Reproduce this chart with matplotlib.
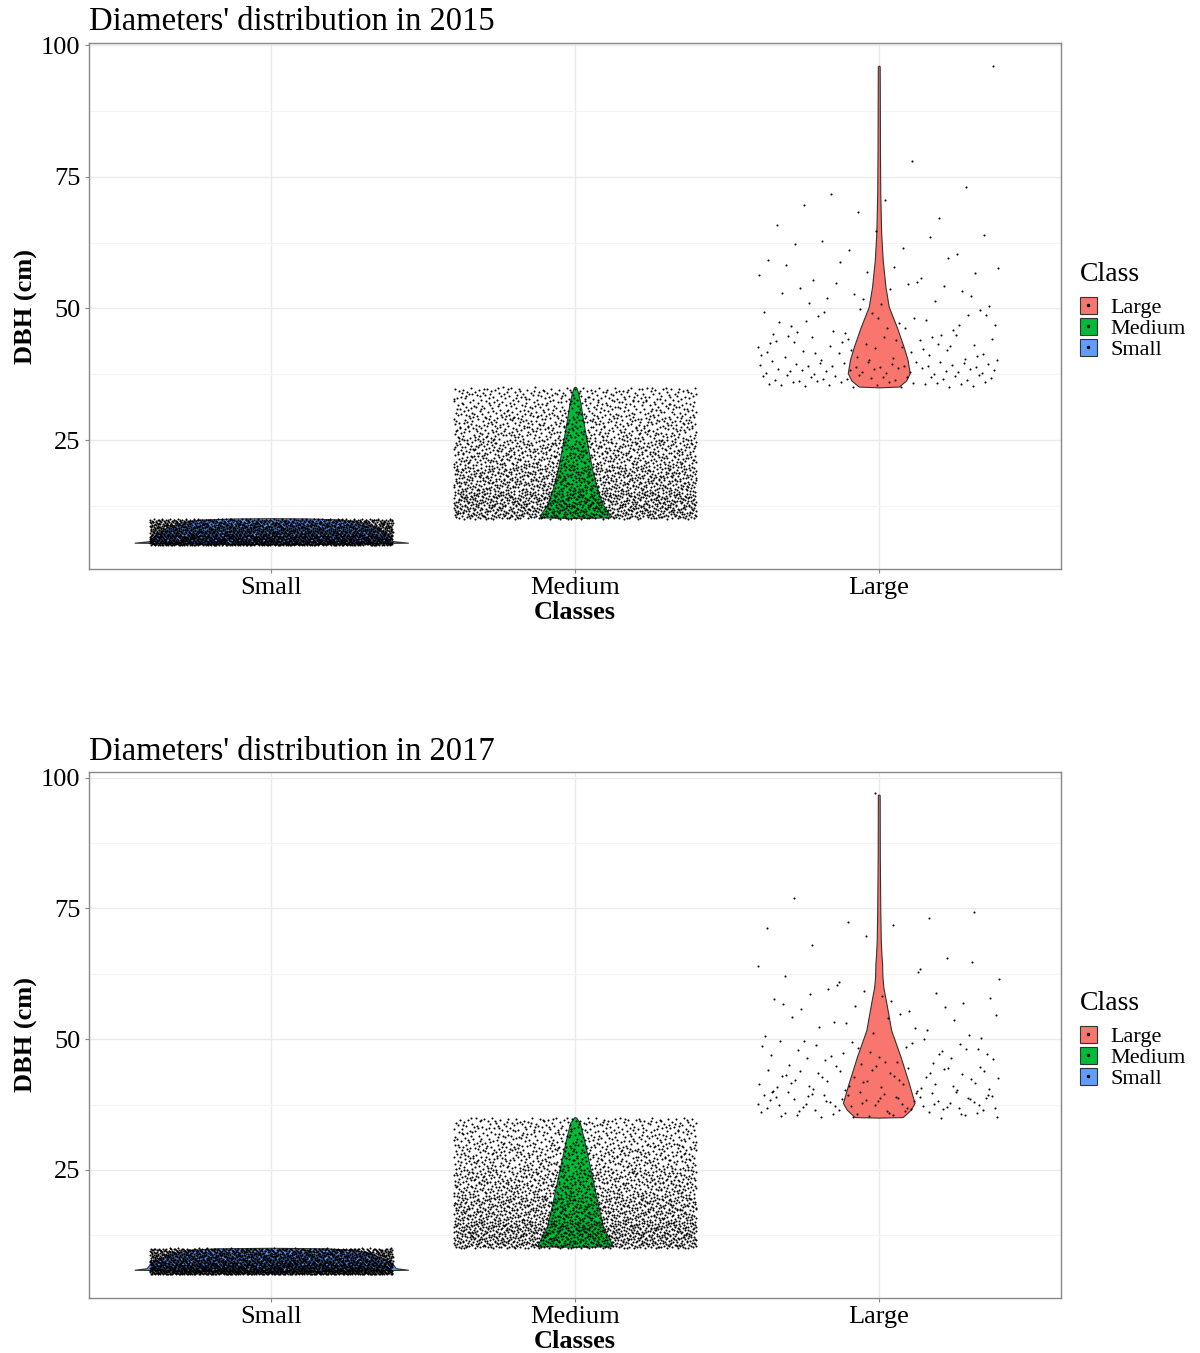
import numpy as np
import matplotlib
matplotlib.use("Agg")
import matplotlib.pyplot as plt
from matplotlib.patches import Rectangle
from matplotlib.lines import Line2D
from matplotlib.legend_handler import HandlerTuple

plt.rcParams['font.family'] = ['Liberation Serif', 'DejaVu Serif']

# ---------------- data ----------------
classes = ["Small", "Medium", "Large"]
years = ["2015", "2017"]
colors = {"Large": "#F8766D", "Medium": "#00BA38", "Small": "#619CFF"}

# histogram of diameters (bin edges in cm, counts of trees)
small_edges = [5, 6, 7, 8, 9, 10]
small_counts_2015 = [620, 550, 480, 420, 360]
small_counts_2017 = [650, 570, 500, 430, 370]

medium_edges = [10, 15, 20, 25, 30, 35]
medium_counts_2015 = [820, 640, 500, 400, 320]
medium_counts_2017 = [850, 660, 510, 400, 320]

large_edges = [35, 40, 45, 50, 55, 60, 65, 70, 75]
large_counts_2015 = [75, 40, 25, 15, 12, 8, 4, 3]
large_counts_2017 = [75, 45, 30, 14, 14, 8, 3, 3]
large_extra_2015 = [78.0, 96.0]
large_extra_2017 = [72.5, 73.2, 77.0, 97.0]

# violin outlines: DBH value and half-width (category units)
violin_small_y_2015 = [5.2, 5.5, 5.8, 6.5, 7.5, 8.5, 9.3, 9.9, 10.1, 10.15]
violin_small_w_2015 = [0.0, 0.45, 0.40, 0.39, 0.37, 0.34, 0.30, 0.23, 0.12, 0.0]
violin_small_y_2017 = [5.5, 5.9, 6.2, 7.0, 8.0, 9.0, 9.7, 10.0, 10.1]
violin_small_w_2017 = [0.0, 0.45, 0.41, 0.40, 0.37, 0.33, 0.27, 0.18, 0.0]

violin_medium_y_2015 = [10.2, 10.3, 11, 13, 16, 19, 22.5, 26, 29, 32, 34, 35, 35.1]
violin_medium_w_2015 = [0.0, 0.115, 0.112, 0.089, 0.072, 0.058, 0.046, 0.035, 0.026, 0.018, 0.010, 0.004, 0.0]
violin_medium_y_2017 = [10.3, 10.4, 11, 14.2, 19.3, 25.6, 30.7, 34, 35, 35.1]
violin_medium_w_2017 = [0.0, 0.125, 0.12, 0.092, 0.072, 0.049, 0.030, 0.016, 0.004, 0.0]

violin_large_y_2015 = [35.0, 35.15, 36.3, 37.7, 40.2, 42.7, 46.5, 50.3, 54.1, 59.2, 64.3, 71.8, 80, 90, 96.0, 96.1]
violin_large_w_2015 = [0.0, 0.066, 0.090, 0.102, 0.095, 0.082, 0.059, 0.033, 0.022, 0.013, 0.008, 0.005, 0.004, 0.0035, 0.003, 0.0]
violin_large_y_2017 = [35.0, 35.1, 36.5, 37.8, 41.6, 46.6, 51.7, 56.9, 60, 62, 64.5, 66, 69, 75, 85, 96.7, 96.8]
violin_large_w_2017 = [0.0, 0.079, 0.105, 0.118, 0.099, 0.072, 0.041, 0.025, 0.015, 0.012, 0.011, 0.009, 0.0066, 0.005, 0.0035, 0.003, 0.0]

yticks = [25, 50, 75, 100]
ylims = {"2015": (0.5, 100.4), "2017": (0.5, 101.1)}
JITTER = 0.4


# --------------- helpers ---------------
def radical_inverse(idx, base):
    idx = np.asarray(idx, dtype=np.int64)
    out = np.zeros(idx.shape, dtype=float)
    f = 1.0 / base
    i = idx.copy()
    while np.any(i > 0):
        out += f * (i % base)
        i //= base
        f /= base
    return out


def expand(edges, counts, extra=(), start=1):
    """Histogram -> values; returns values and low-discrepancy x jitter."""
    ys, idxs = [], []
    pos = start
    for lo, hi, n in zip(edges[:-1], edges[1:], counts):
        k = np.arange(pos, pos + n)
        ys.append(lo + radical_inverse(k, 2) * (hi - lo))
        idxs.append(k)
        pos += n
    extra = np.asarray(extra, dtype=float)
    ys.append(extra)
    idxs.append(np.arange(pos, pos + len(extra)))
    idx = np.concatenate(idxs)
    return np.concatenate(ys), (radical_inverse(idx, 3) * 2 - 1) * JITTER


data = {
    "2015": {
        "Small": expand(small_edges, small_counts_2015, start=11),
        "Medium": expand(medium_edges, medium_counts_2015, start=37),
        "Large": expand(large_edges, large_counts_2015, large_extra_2015, start=5),
    },
    "2017": {
        "Small": expand(small_edges, small_counts_2017, start=101),
        "Medium": expand(medium_edges, medium_counts_2017, start=203),
        "Large": expand(large_edges, large_counts_2017, large_extra_2017, start=61),
    },
}
violins = {
    "2015": {
        "Small": (violin_small_y_2015, violin_small_w_2015),
        "Medium": (violin_medium_y_2015, violin_medium_w_2015),
        "Large": (violin_large_y_2015, violin_large_w_2015),
    },
    "2017": {
        "Small": (violin_small_y_2017, violin_small_w_2017),
        "Medium": (violin_medium_y_2017, violin_medium_w_2017),
        "Large": (violin_large_y_2017, violin_large_w_2017),
    },
}

# --------------- figure ---------------
W, H = 1200, 1353
fig = plt.figure(figsize=(W / 100, H / 100), dpi=100)

panels = {"2015": (43, 569), "2017": (772, 1298)}
left_px, right_px = 89, 1061

for year in years:
    top, bot = panels[year]
    ax = fig.add_axes([left_px / W, 1 - bot / H, (right_px - left_px) / W, (bot - top) / H])
    ax.set_xlim(0.4, 3.6)
    ax.set_ylim(*ylims[year])

    ax.set_yticks(yticks)
    ax.set_yticks([12.5, 37.5, 62.5, 87.5], minor=True)
    ax.set_xticks([1, 2, 3])
    ax.set_xticklabels(classes)
    ax.grid(True, which="major", color="#ebebeb", lw=1.0, zorder=0)
    ax.grid(True, which="minor", axis="y", color="#f4f4f4", lw=0.8, zorder=0)
    ax.set_axisbelow(True)
    ax.tick_params(which="minor", length=0)
    ax.tick_params(which="major", length=3, width=0.8, color="#888888",
                   labelsize=19, labelcolor="black", pad=3)

    for i, cls in enumerate(classes):
        xc = i + 1
        vy, vw = violins[year][cls]
        vy = np.asarray(vy)
        vw = np.asarray(vw)
        ax.fill_betweenx(vy, xc - vw, xc + vw, facecolor=colors[cls],
                         edgecolor="#333333", lw=0.8, zorder=2)
        vals, jit = data[year][cls]
        ax.scatter(xc + jit, vals, s=2.2, c="black", marker="o", linewidths=0, zorder=3)

    for sp in ax.spines.values():
        sp.set_color("#888888")
        sp.set_linewidth(1.0)

    ax.set_xlabel("Classes", fontsize=19, fontweight="bold", labelpad=1)
    ax.set_ylabel("DBH (cm)", fontsize=19, fontweight="bold", labelpad=2)
    ax.set_title(f"Diameters' distribution in {year}", fontsize=23.5, loc="left", pad=9)

    handles = []
    for cls in ["Large", "Medium", "Small"]:
        patch = Rectangle((0, 0), 1, 1, facecolor=colors[cls], edgecolor="#333333", lw=0.8)
        dot = Line2D([], [], marker="o", markersize=1.5, color="black", lw=0)
        handles.append((patch, dot))
    leg = ax.legend(handles, ["Large", "Medium", "Small"], title="Class",
                    handler_map={tuple: HandlerTuple(ndivide=1, pad=0)},
                    loc="center left", bbox_to_anchor=(1.010, 0.49), frameon=False,
                    fontsize=16, title_fontsize=20, handlelength=0.8, handleheight=0.78,
                    labelspacing=0.0, handletextpad=0.6, borderaxespad=0)
    leg._legend_box.align = "left"
    leg._legend_box.sep = 7

fig.savefig("out.png", dpi=100)
